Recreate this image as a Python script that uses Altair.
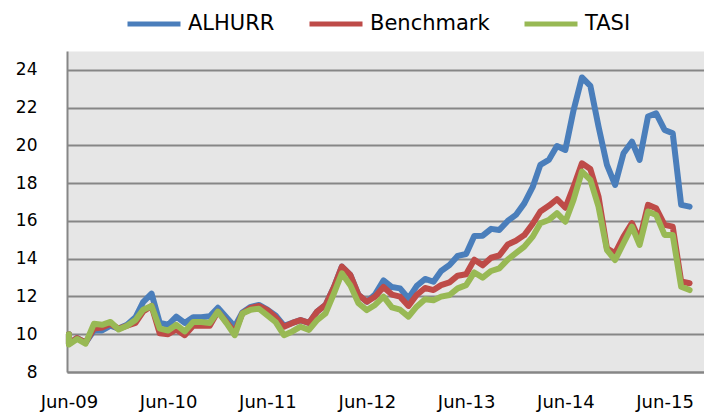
import altair as alt
import pandas as pd

series_names = ["ALHURR", "Benchmark", "TASI"]
colors = ["#4A7EBB", "#BE4B48", "#98B954"]

# first point (Jun-09 base of 10) then monthly values Jun-09 .. Sep-15
dates = ["2009-06-01"] + [d.strftime("%Y-%m-%d") for d in pd.date_range("2009-06-01", "2015-09-01", freq="MS")]

alhurr = [10.0, 9.5, 9.8, 9.55, 10.2, 10.2, 10.45, 10.3, 10.5, 10.9, 11.7,
          12.15, 10.6, 10.5, 10.93, 10.6, 10.9, 10.9, 10.95, 11.4, 10.9,
          10.4, 11.15, 11.45, 11.55, 11.3, 11.0, 10.45, 10.6, 10.75, 10.6,
          11.2, 11.55, 12.5, 13.58, 13.14, 12.08, 11.72, 12.1, 12.85, 12.5,
          12.43, 11.9, 12.55, 12.93, 12.78, 13.35, 13.67, 14.15, 14.25, 15.2,
          15.22, 15.58, 15.52, 16.0, 16.32, 16.93, 17.8, 18.97, 19.23, 19.97,
          19.76, 21.85, 23.6, 23.15, 21.0, 18.97, 17.91, 19.58, 20.2, 19.23,
          21.53, 21.7, 20.82, 20.64, 16.85, 16.76]
benchmark = [10.0, 9.5, 9.8, 9.55, 10.3, 10.35, 10.55, 10.3, 10.45, 10.6, 11.2,
             11.5, 10.05, 10.0, 10.25, 9.95, 10.45, 10.45, 10.45, 11.2, 10.65,
             10.1, 11.1, 11.4, 11.5, 11.28, 10.9, 10.4, 10.6, 10.75, 10.6,
             11.2, 11.55, 12.5, 13.58, 13.14, 12.08, 11.72, 11.99, 12.5, 12.1,
             11.99, 11.5, 12.08, 12.45, 12.34, 12.6, 12.75, 13.1, 13.18, 13.95,
             13.65, 14.05, 14.17, 14.75, 14.95, 15.25, 15.85, 16.5, 16.8, 17.15,
             16.7, 17.8, 19.05, 18.75, 17.29, 14.55, 14.29, 15.17, 15.88, 14.99,
             16.85, 16.67, 15.79, 15.7, 12.79, 12.7]
tasi = [10.0, 9.45, 9.75, 9.5, 10.55, 10.5, 10.65, 10.25, 10.45, 10.75, 11.3,
        11.5, 10.3, 10.2, 10.5, 10.15, 10.65, 10.65, 10.6, 11.2, 10.6,
        9.95, 11.1, 11.3, 11.35, 11.0, 10.65, 9.95, 10.15, 10.4, 10.23,
        10.75, 11.1, 12.17, 13.23, 12.6, 11.64, 11.28, 11.55, 11.99, 11.42,
        11.3, 10.93, 11.46, 11.85, 11.8, 11.99, 12.08, 12.43, 12.6, 13.27,
        13.0, 13.35, 13.49, 13.95, 14.29, 14.64, 15.17, 15.88, 16.05, 16.41,
        15.96, 17.11, 18.61, 18.17, 16.76, 14.46, 13.93, 14.82, 15.7, 14.73,
        16.5, 16.32, 15.26, 15.26, 12.52, 12.34]

y_ticks = [8, 10, 12, 14, 16, 18, 20, 22, 24]
x_tick_years = [2009, 2010, 2011, 2012, 2013, 2014, 2015]

rows = []
for name, vals in zip(series_names, [alhurr, benchmark, tasi]):
    for k, (d, v) in enumerate(zip(dates, vals)):
        rows.append({"series": name, "date": d, "value": v, "seq": k})
df = pd.DataFrame(rows)

FONT = "DejaVu Sans"

color = alt.Color(
    "series:N",
    scale=alt.Scale(domain=series_names, range=colors),
    legend=alt.Legend(
        title=None, orient="none", legendX=58, legendY=-56, direction="horizontal",
        symbolType="stroke", symbolSize=2809, symbolStrokeWidth=5,
        labelFont=FONT, labelFontSize=21, labelColor="#000000",
        labelOffset=5, columnPadding=24, padding=0,
    ),
)

x = alt.X(
    "date:T",
    title=None,
    scale=alt.Scale(type="utc", domain=[alt.DateTime(year=2009, month=5, date=25, utc=True),
                                        alt.DateTime(year=2015, month=10, date=24, utc=True)]),
    axis=alt.Axis(
        values=[alt.DateTime(year=yy, month=6, date=1, utc=True) for yy in x_tick_years],
        format="%b-%y", labelFont=FONT, labelFontSize=18, labelColor="#000000",
        labelPadding=21, ticks=False, grid=False, domainColor="#868686", domainWidth=2,
        labelAngle=0,
    ),
)
y = alt.Y(
    "value:Q",
    title=None,
    scale=alt.Scale(domain=[8, 25], nice=False, zero=False),
    axis=alt.Axis(
        values=y_ticks, labelFont=FONT, labelFontSize=17, labelColor="#000000",
        labelPadding=30, ticks=False, grid=True, gridColor="#868686", gridWidth=2,
        domainColor="#868686", domainWidth=2,
    ),
)

layers = []
for name in series_names:
    layers.append(
        alt.Chart(df).transform_filter(alt.datum.series == name)
        .mark_line(strokeWidth=6, strokeJoin="round", strokeCap="round")
        .encode(x=x, y=y, color=color, order=alt.Order("seq:Q"))
    )

chart = alt.layer(*layers).properties(
    width=637, height=321,
    autosize=alt.AutoSizeParams(type="none"),
    padding={"left": 59, "top": 43, "right": 0, "bottom": 42},
).configure_view(fill="#E6E6E6", stroke="transparent")

chart.save("out.html", embed_options={"renderer": "svg", "actions": False})
